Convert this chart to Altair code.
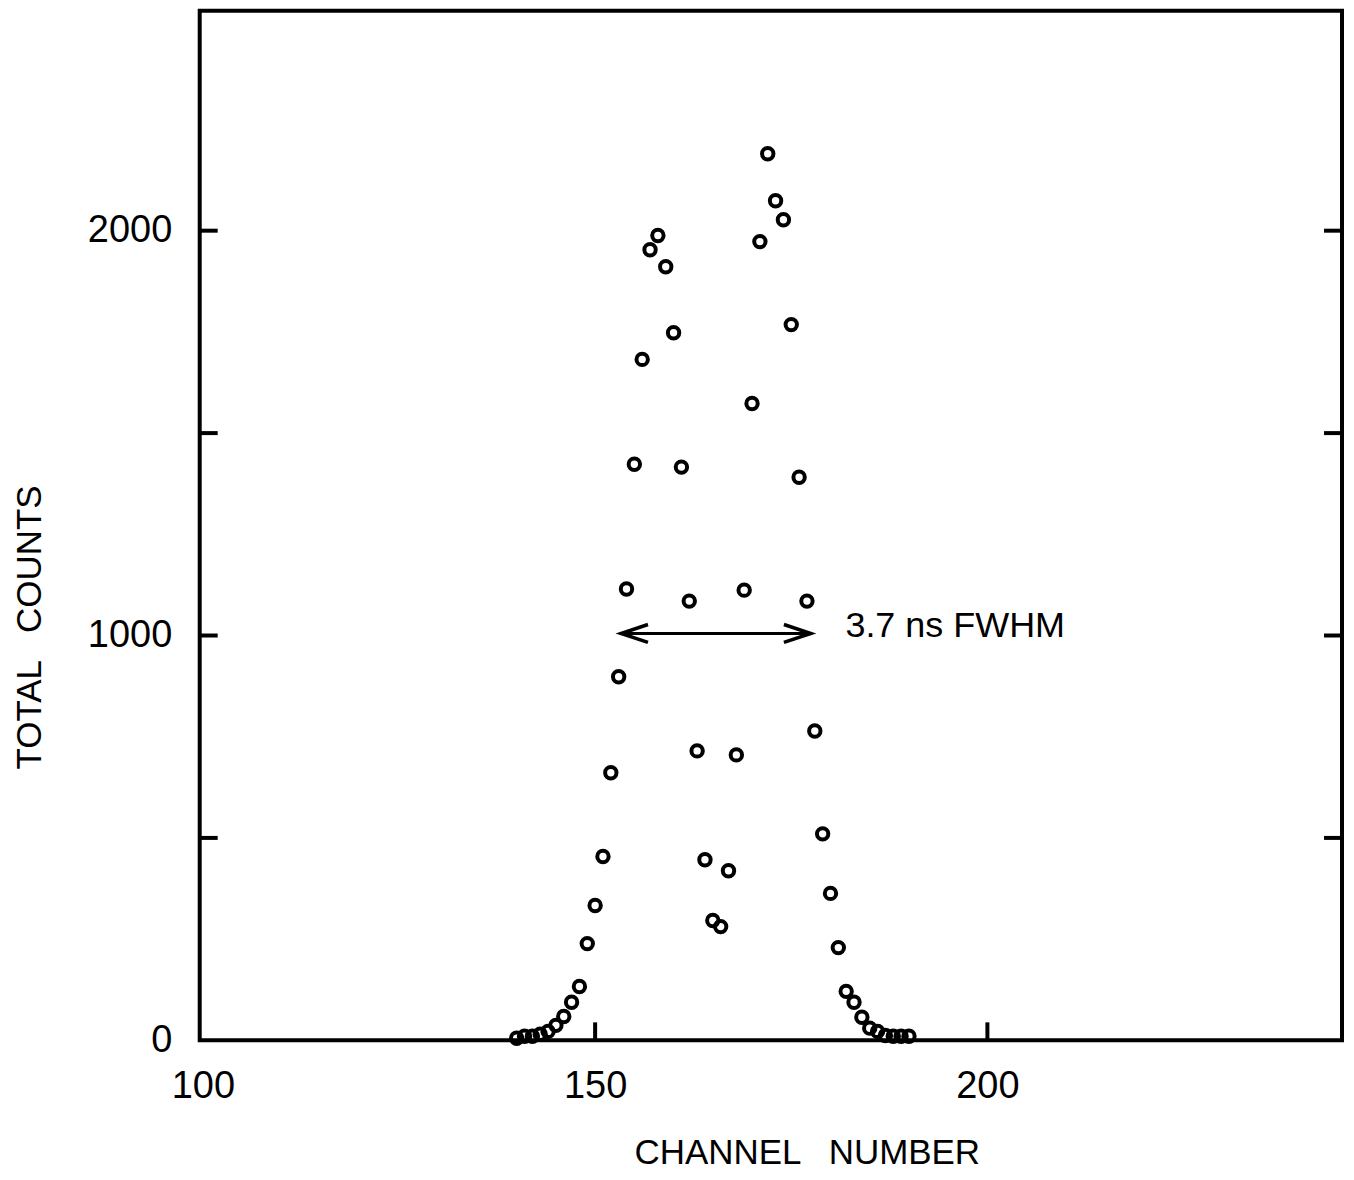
import altair as alt
import pandas as pd

# ---- data ----
channels = list(range(140, 191))
counts = [5, 10, 10, 15, 22, 37, 59, 94, 133, 239,
          333, 454, 661, 898, 1115, 1423, 1682, 1953, 1988, 1911,
          1748, 1416, 1085, 715, 446, 296, 281, 419, 705, 1112,
          1573, 1973, 2190, 2074, 2027, 1768, 1391, 1085, 764, 510,
          363, 229, 121, 94, 57, 30, 22, 12, 10, 10,
          10]

x_label_values = [100, 150, 200]
y_label_values = [0, 1000, 2000]
x_tick_values = [150, 200]
y_tick_values = [500, 1000, 1500, 2000]

arrow_start = [153.3]
arrow_end = [177.5]
arrow_level = [1005]

note_channel = [181.9]
note_counts = [996]
note_text = ["3.7 ns FWHM"]

x_title = "CHANNEL\u2002 NUMBER"
y_title = "TOTAL\u2002 COUNTS"

# ---- chart ----
W, H = 1144, 1031
x_scale = alt.Scale(domain=[99.6, 245.2], nice=False, zero=False)
y_scale = alt.Scale(domain=[0, 2543], nice=False, zero=False)

x_axis = alt.Axis(values=x_label_values, format="d", title=x_title, ticks=False,
                  tickSize=0, domain=False, grid=False, labelFontSize=38,
                  labelPadding=27, labelFlush=False, labelColor="black",
                  titleFontSize=35, titleFontWeight="normal", titleColor="black",
                  titleX=608, titleY=112, titleBaseline="middle",
                  titleAlign="center")
y_axis = alt.Axis(values=y_label_values, format="d", title=y_title, ticks=False,
                  tickSize=0, domain=False, grid=False, labelFontSize=38,
                  labelPadding=28, labelFlush=False, labelColor="black",
                  titleFontSize=35, titleFontWeight="normal", titleColor="black",
                  titleX=-170, titleY=617, titleAngle=270,
                  titleBaseline="middle", titleAlign="center")

df = pd.DataFrame({"channel": channels, "counts": counts})

points = alt.Chart(df).mark_point(
    shape="circle", filled=False, size=130, strokeWidth=4,
    color="black", opacity=1
).encode(
    x=alt.X("channel:Q", scale=x_scale, axis=x_axis),
    y=alt.Y("counts:Q", scale=y_scale, axis=y_axis),
)

left_ticks = alt.Chart(pd.DataFrame({"counts": y_tick_values})).mark_rule(
    color="black", strokeWidth=4
).encode(y=alt.Y("counts:Q", scale=y_scale), x=alt.value(0), x2=alt.value(18))

right_ticks = alt.Chart(pd.DataFrame({"counts": y_tick_values})).mark_rule(
    color="black", strokeWidth=4
).encode(y=alt.Y("counts:Q", scale=y_scale), x=alt.value(W - 18), x2=alt.value(W))

bottom_ticks = alt.Chart(pd.DataFrame({"channel": x_tick_values})).mark_rule(
    color="black", strokeWidth=4
).encode(x=alt.X("channel:Q", scale=x_scale), y=alt.value(H - 18), y2=alt.value(H))

arrow_df = pd.DataFrame({"channel": arrow_start, "channel_end": arrow_end,
                         "counts": arrow_level})
arrow_line = alt.Chart(arrow_df).mark_rule(color="black", strokeWidth=3).encode(
    x=alt.X("channel:Q", scale=x_scale), x2="channel_end:Q",
    y=alt.Y("counts:Q", scale=y_scale))

left_head = alt.Chart(pd.DataFrame({"channel": arrow_start, "counts": arrow_level})).mark_point(
    shape="M 1 -0.333 L 0 0 L 1 0.333", size=2916, filled=False,
    strokeWidth=3.5, color="black", opacity=1, strokeJoin="miter"
).encode(x=alt.X("channel:Q", scale=x_scale), y=alt.Y("counts:Q", scale=y_scale))

right_head = alt.Chart(pd.DataFrame({"channel": arrow_end, "counts": arrow_level})).mark_point(
    shape="M -1 -0.333 L 0 0 L -1 0.333", size=2916, filled=False,
    strokeWidth=3.5, color="black", opacity=1, strokeJoin="miter"
).encode(x=alt.X("channel:Q", scale=x_scale), y=alt.Y("counts:Q", scale=y_scale))

note = alt.Chart(pd.DataFrame({"channel": note_channel, "counts": note_counts,
                               "label": note_text})).mark_text(
    align="left", baseline="alphabetic", fontSize=36, color="black"
).encode(x=alt.X("channel:Q", scale=x_scale), y=alt.Y("counts:Q", scale=y_scale),
         text="label:N")

chart = alt.layer(
    points, left_ticks, right_ticks, bottom_ticks, arrow_line, left_head,
    right_head, note
).properties(
    width=W, height=H,
    autosize=alt.AutoSizeParams(type="none"),
    padding={"left": 192, "top": 2, "right": 4, "bottom": 131},
    background="white",
).configure(font="Liberation Sans").configure_view(stroke="black", strokeWidth=4)

chart.save("out.html", embed_options={"renderer": "svg", "actions": False})
